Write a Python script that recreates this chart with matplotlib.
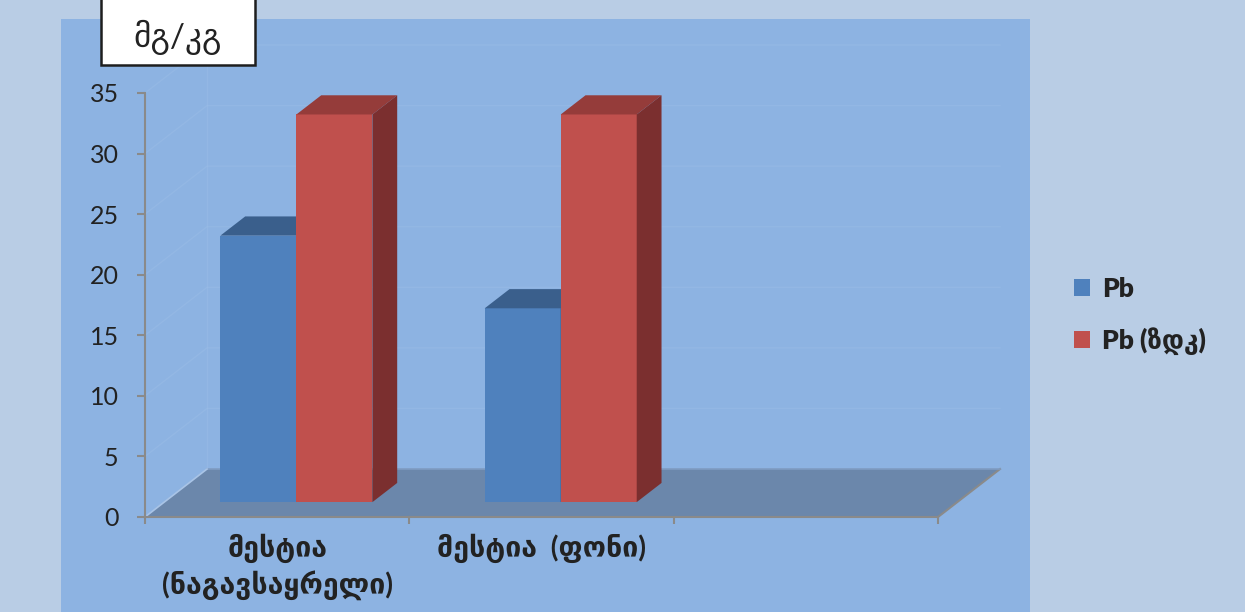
import matplotlib
matplotlib.use("Agg")
import matplotlib.pyplot as plt
from matplotlib.patches import Polygon, Rectangle, Patch
from matplotlib.font_manager import FontProperties

# ---- data -------------------------------------------------------------
categories = ["მესტია\n(ნაგავსაყრელი)", "მესტია  (ფონი)", ""]
series_names = ["Pb", "Pb (ზდკ)"]
pb_values = [22, 16]
pb_limit_values = [32, 32]
y_ticks = [0, 5, 10, 15, 20, 25, 30, 35]
unit_label = "მგ/კგ"

# ---- style --------------------------------------------------------------
OUTER_BG = "#b9cde5"
PANEL_BG = "#8db3e2"
FLOOR = "#6b87ab"
AXIS_GREY = "#8a8a8a"
TEXT = "#222222"
BLUE = ("#4f81bd", "#3a5f8c", "#2f4d72")   # front, top, side
RED = ("#c0504d", "#953c3a", "#7b2f2f")

FAMILY = ["Lato", "DejaVu Sans"]

W, H = 1245, 612
fig = plt.figure(figsize=(W / 100, H / 100), dpi=100)
fig.patch.set_facecolor(OUTER_BG)


def fx(px):
    return px / W


def fy(py):
    return 1 - py / H


# plot-area panel
fig.add_artist(Rectangle((fx(61), 0), fx(1030) - fx(61), fy(19),
                         transform=fig.transFigure, facecolor=PANEL_BG,
                         edgecolor="none", zorder=0))

ax = fig.add_axes([fx(145), fy(517), fx(938) - fx(145), fy(93) - fy(517)])
ax.set_xlim(0, len(categories))
ax.set_ylim(0, 35)
ax.patch.set_visible(False)

# oblique depth vector (data units) for the pseudo-3D look
DEPTH_X = 0.2346
DEPTH_Y = 3.96


def proj(x, v, d):
    return (x + d * DEPTH_X, v + d * DEPTH_Y)


# faint gridlines on the side and back walls
GRID = "#9fc0e8"
for v in y_ticks[1:]:
    pts = [proj(0, v, 0), proj(0, v, 1), proj(len(categories), v, 1)]
    ax.plot([p[0] for p in pts], [p[1] for p in pts], color=GRID,
            lw=1.0, alpha=0.35, zorder=0.5, clip_on=False)
p0, p1 = proj(0, 0, 1), proj(0, 35, 1)
ax.plot([p0[0], p1[0]], [p0[1], p1[1]], color=GRID, lw=1.0, alpha=0.35,
        zorder=0.5, clip_on=False)

# floor
n = len(categories)
floor = Polygon([proj(0, 0, 0), proj(n, 0, 0), proj(n, 0, 1), proj(0, 0, 1)],
                closed=True, facecolor=FLOOR, edgecolor="none", zorder=1,
                clip_on=False)
ax.add_patch(floor)
a, b = proj(n, 0, 0), proj(n, 0, 1)
ax.plot([a[0], b[0]], [a[1], b[1]], color=AXIS_GREY, lw=1.5, zorder=1.5,
        clip_on=False)
a, b = proj(0, 0, 1), proj(n, 0, 1)
ax.plot([a[0], b[0]], [a[1], b[1]], color="#7f9cc2", lw=1.2, zorder=1.5,
        clip_on=False)
a, b = proj(0, 0, 0), proj(0, 0, 1)
ax.plot([a[0], b[0]], [a[1], b[1]], color="#a9c4e6", lw=1.2, zorder=1.5,
        clip_on=False)

# bars
D0, D1 = 0.31, 0.71
BW = 0.2875


def draw_bar(x0, v, colors, label):
    front, top, side = colors
    x1 = x0 + BW
    fx0, fb = proj(x0, 0, D0)
    bars = ax.bar(fx0, v, width=BW, bottom=fb, align="edge", color=front,
                  edgecolor="none", zorder=3, label=label, clip_on=False)
    ax.add_patch(Polygon([proj(x0, v, D0), proj(x1, v, D0),
                          proj(x1, v, D1), proj(x0, v, D1)],
                         closed=True, facecolor=top, edgecolor="none",
                         zorder=3, clip_on=False))
    ax.add_patch(Polygon([proj(x1, 0, D0), proj(x1, v, D0),
                          proj(x1, v, D1), proj(x1, 0, D1)],
                         closed=True, facecolor=side, edgecolor="none",
                         zorder=3, clip_on=False))
    return bars


for i in range(len(pb_values)):
    center = i + 0.5
    draw_bar(center - BW, pb_values[i], BLUE, series_names[0])
    draw_bar(center, pb_limit_values[i], RED, series_names[1])

# axes
for s in ("top", "right"):
    ax.spines[s].set_visible(False)
for s in ("left", "bottom"):
    ax.spines[s].set_color(AXIS_GREY)
    ax.spines[s].set_linewidth(1.5)
    ax.spines[s].set_zorder(2)

ax.set_yticks(y_ticks)
ax.set_yticklabels([str(t) for t in y_ticks])
ax.tick_params(axis="y", direction="out", length=6, width=1.5,
               color=AXIS_GREY, pad=13, labelsize=18, labelcolor=TEXT)
for lab in ax.get_yticklabels():
    lab.set_fontfamily(FAMILY)

ax.set_xticks(range(n + 1))
ax.set_xticklabels([])
ax.tick_params(axis="x", which="major", direction="out", length=5,
               width=1.5, color=AXIS_GREY)
ax.set_xticks([i + 0.5 for i in range(n)], minor=True)
ax.set_xticklabels(categories, minor=True, fontsize=20.5, fontweight="bold",
                   color=TEXT, family=FAMILY, linespacing=1.28)
ax.tick_params(axis="x", which="minor", length=0, pad=12)

# legend
legend_font = FontProperties(family=FAMILY, weight="heavy", size=19)
handles = [Patch(facecolor=BLUE[0]), Patch(facecolor=RED[0])]
leg = fig.legend(handles, series_names, loc="center left",
                 bbox_to_anchor=(fx(1074), fy(316)), frameon=False,
                 prop=legend_font, handlelength=0.62, handleheight=0.62,
                 handletextpad=0.45, labelspacing=1.0, borderpad=0,
                 borderaxespad=0)
for t in leg.get_texts():
    t.set_color(TEXT)

# unit label box
fig.add_artist(Rectangle((fx(101), fy(65)), fx(255) - fx(101), fy(-5) - fy(65),
                         transform=fig.transFigure, facecolor="white",
                         edgecolor="#1e1e1e", linewidth=1.8, zorder=5))
fig.text(fx(178), fy(37), unit_label, ha="center", va="center", fontsize=24,
         family=FAMILY, color=TEXT, zorder=6)

fig.savefig("out.png", dpi=100, facecolor=fig.get_facecolor())
